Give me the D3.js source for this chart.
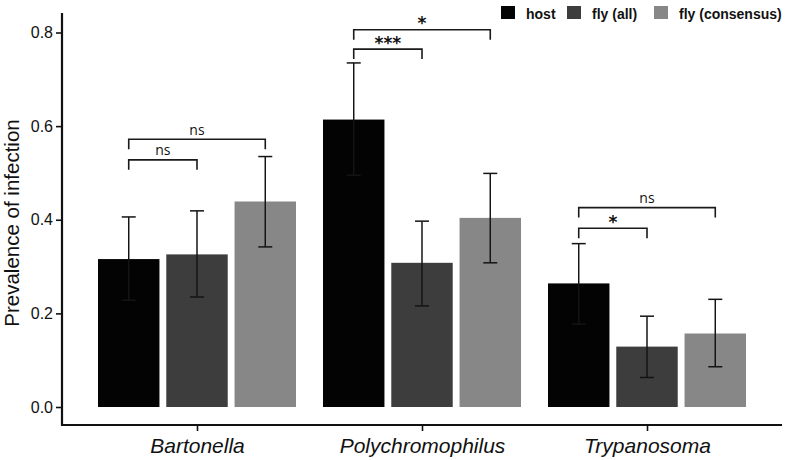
<!DOCTYPE html>
<html>
<head>
<meta charset="utf-8">
<script src="https://cdn.jsdelivr.net/npm/d3@7"></script>
<style>
  body { margin: 0; background: #fff; }
  svg { display: block; font-family: "Liberation Sans", Arial, sans-serif; }
</style>
</head>
<body>
<svg id="chart" width="789" height="460"></svg>
<script>
// ---- data ----
const categories = ["Bartonella", "Polychromophilus", "Trypanosoma"];
const series = ["host", "fly (all)", "fly (consensus)"];
const seriesColors = ["#030303", "#3d3d3d", "#878787"];
const prevalence = [
  [0.316, 0.326, 0.439],
  [0.614, 0.308, 0.404],
  [0.264, 0.129, 0.157]
];
const ciLow = [
  [0.228, 0.235, 0.342],
  [0.495, 0.216, 0.308],
  [0.177, 0.063, 0.086]
];
const ciHigh = [
  [0.406, 0.419, 0.535],
  [0.735, 0.397, 0.499],
  [0.349, 0.194, 0.230]
];
const yTicks = [0.0, 0.2, 0.4, 0.6, 0.8];
// significance brackets: [category index, series from, series to, height, label]
const bracketCat = [0, 0, 1, 1, 2, 2];
const bracketFrom = [0, 0, 0, 0, 0, 0];
const bracketTo = [1, 2, 1, 2, 1, 2];
const bracketY = [0.528, 0.572, 0.7645, 0.806, 0.382, 0.426];
const bracketLabel = ["ns", "ns", "***", "*", "*", "ns"];

// ---- layout ----
const svg = d3.select("#chart");
const left = 62, right = 782, bottom = 425;
const y = d3.scaleLinear().domain([0, 0.8]).range([407, 32.5]);
const x = d3.scalePoint().domain(categories).range([left, right]).padding(0.6);
const xs = d3.scaleBand().domain(series).range([-99, 99]).paddingInner(0.1);
const color = d3.scaleOrdinal().domain(series).range(seriesColors);

// bars
const rows = [];
categories.forEach((c, i) => series.forEach((s, j) => rows.push({
  c, s, v: prevalence[i][j], lo: ciLow[i][j], hi: ciHigh[i][j]
})));

svg.append("g").selectAll("rect").data(rows).join("rect")
  .attr("x", d => x(d.c) + xs(d.s))
  .attr("width", xs.bandwidth())
  .attr("y", d => y(d.v))
  .attr("height", d => y(0) - y(d.v))
  .attr("fill", d => color(d.s));

// error bars
const eb = svg.append("g").attr("stroke", "#141414").attr("stroke-width", 1.5).attr("fill", "none");
const cap = 7;
rows.forEach(d => {
  const cx = x(d.c) + xs(d.s) + xs.bandwidth() / 2;
  eb.append("line").attr("x1", cx).attr("x2", cx).attr("y1", y(d.lo)).attr("y2", y(d.hi));
  eb.append("line").attr("x1", cx - cap).attr("x2", cx + cap).attr("y1", y(d.hi)).attr("y2", y(d.hi));
  eb.append("line").attr("x1", cx - cap).attr("x2", cx + cap).attr("y1", y(d.lo)).attr("y2", y(d.lo));
});

// brackets
const br = svg.append("g");
bracketCat.forEach((ci, k) => {
  const c = categories[ci];
  const x1 = x(c) + xs(series[bracketFrom[k]]) + xs.bandwidth() / 2;
  const x2 = x(c) + xs(series[bracketTo[k]]) + xs.bandwidth() / 2;
  const yy = y(bracketY[k]);
  br.append("path")
    .attr("d", `M${x1},${yy + 10}V${yy}H${x2}V${yy + 10}`)
    .attr("fill", "none").attr("stroke", "#1a1a1a").attr("stroke-width", 1.6);
  const isStar = bracketLabel[k].startsWith("*");
  br.append("text")
    .attr("x", (x1 + x2) / 2)
    .attr("y", isStar ? yy - 0.5 : yy - 4.5)
    .attr("text-anchor", "middle")
    .attr("font-family", isStar ? "'DejaVu Sans', sans-serif" : "'Open Sans', 'Liberation Sans', sans-serif")
    .attr("font-size", isStar ? 17 : 14)
    .attr("font-weight", isStar ? "bold" : "normal")
    .attr("fill", "#111")
    .text(bracketLabel[k]);
});

// y axis
const yAxis = svg.append("g").attr("transform", `translate(${left},0)`)
  .call(d3.axisLeft(y).tickValues(yTicks).tickFormat(d3.format(".1f")).tickSize(6).tickPadding(3));
yAxis.select(".domain").remove();
yAxis.selectAll(".tick line").attr("stroke", "#111").attr("stroke-width", 1.6);
yAxis.selectAll(".tick text").attr("font-size", 16).attr("fill", "#111")
  .attr("font-family", "'Liberation Sans', Arial, sans-serif");
svg.append("line").attr("x1", left).attr("x2", left).attr("y1", 13).attr("y2", bottom + 1)
  .attr("stroke", "#111").attr("stroke-width", 2.2);

// x axis
const xAxis = svg.append("g").attr("transform", `translate(0,${bottom})`)
  .call(d3.axisBottom(x).tickSize(6).tickPadding(7));
xAxis.select(".domain").remove();
xAxis.selectAll(".tick line").attr("stroke", "#111").attr("stroke-width", 1.6);
xAxis.selectAll(".tick text").attr("font-size", 21).attr("font-style", "italic").attr("fill", "#111")
  .attr("font-family", "'Liberation Sans', Arial, sans-serif");
svg.append("line").attr("x1", left - 1).attr("x2", right).attr("y1", bottom).attr("y2", bottom)
  .attr("stroke", "#111").attr("stroke-width", 2.2);

// y title
svg.append("text")
  .attr("transform", `translate(19,223) rotate(-90)`)
  .attr("text-anchor", "middle")
  .attr("font-size", 20.5)
  .attr("fill", "#111")
  .text("Prevalence of infection");

// legend
const legX = [501, 567, 654];
const lg = svg.append("g");
series.forEach((s, i) => {
  lg.append("rect").attr("x", legX[i]).attr("y", 6).attr("width", 14).attr("height", 13).attr("fill", color(s));
  lg.append("text").attr("x", legX[i] + 25).attr("y", 18.5)
    .attr("font-size", 14).attr("font-weight", "bold").attr("fill", "#111").text(s);
});
</script>
</body>
</html>
